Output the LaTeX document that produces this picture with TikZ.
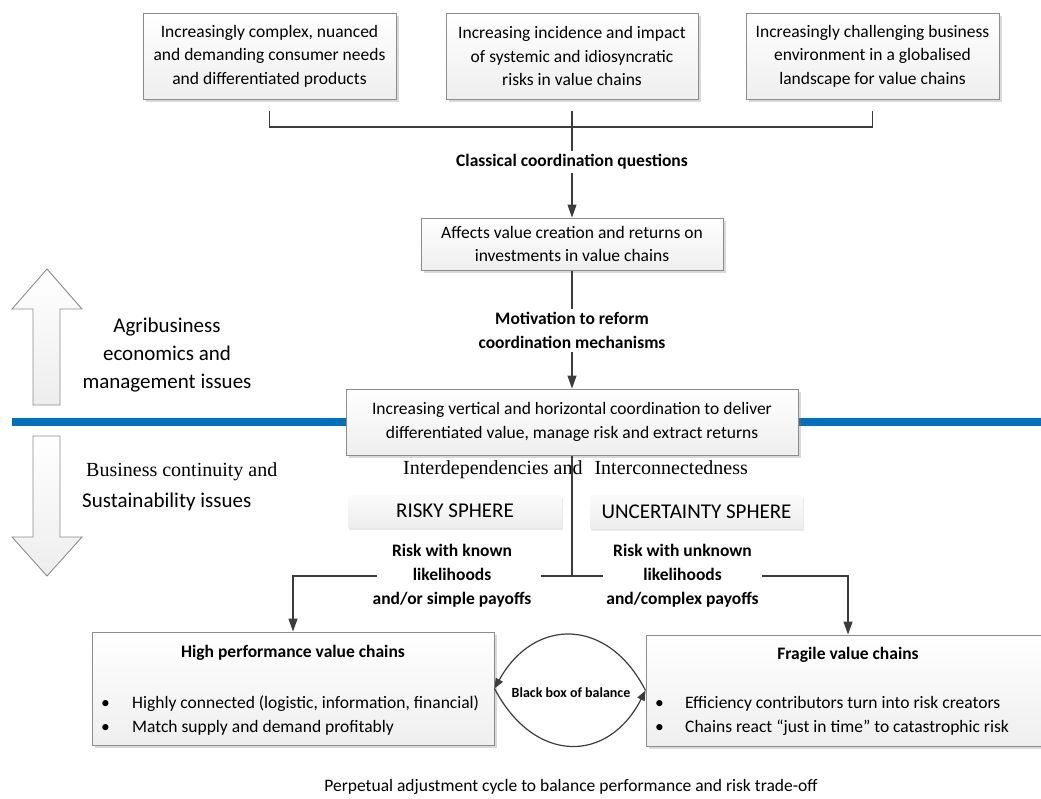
\documentclass[tikz,border=0pt]{standalone}
\usepackage{fontspec}
\setmainfont{Carlito}
\newfontfamily\serifTNR{Liberation Serif}
\usetikzlibrary{arrows.meta,shadows}

\definecolor{lineC}{HTML}{3C3C3C}
\definecolor{boxB}{HTML}{8C8C8C}
\definecolor{blueL}{HTML}{0070C0}

\tikzset{
  boxtext/.style={font=\fontsize{17.5}{23.5}\selectfont},
  box/.style={boxtext, draw=boxB, line width=1pt, top color=white, bottom color=gray!13,
    drop shadow={shadow xshift=2.5pt, shadow yshift=-2.5pt, opacity=.3},
    inner sep=0pt, align=center},
  sphere/.style={font=\fontsize{21}{25}\selectfont, top color=gray!3, bottom color=gray!14,
    drop shadow={shadow xshift=1pt, shadow yshift=-2.5pt, opacity=.18},
    inner sep=0pt, align=center},
  boldlabel/.style={font=\fontsize{17.5}{24.5}\selectfont\bfseries, align=center, inner sep=3pt},
  plainlabel/.style={font=\fontsize{17.5}{24}\selectfont, align=left, inner sep=0pt},
  link/.style={draw=lineC, line width=1.3pt},
  arr/.style={link, -{Triangle[length=13pt,width=9pt]}},
  looparr/.style={link, line width=1.2pt, -{Triangle[length=10pt,width=8pt]}},
  blockarrow/.style={draw=boxB, line width=0.9pt, top color=white, bottom color=gray!14},
}

\begin{document}
\begin{tikzpicture}[x=1pt,y=-1pt]
\useasboundingbox (0,0) rectangle (1041,798);

% divider between the two issue areas
\draw[blueL, line width=7.5pt] (12,422) -- (1041,422);

% side block arrows
\draw[blockarrow] (33,405) -- (33,309) -- (12,309) -- (47,269) -- (82,309) -- (60,309) -- (60,405) -- cycle;
\draw[blockarrow] (33,436) -- (33,537) -- (12,537) -- (47,576) -- (82,537) -- (60,537) -- (60,436) -- cycle;

\node[font=\fontsize{21}{28}\selectfont, align=center, inner sep=0pt] (agri) at (167,355)
  {Agribusiness\\economics and\\management issues};
\node[font=\serifTNR\fontsize{20}{24}\selectfont, anchor=west, inner sep=0pt] (bc1) at (86,472)
  {Business continuity and};
\node[font=\fontsize{21}{25}\selectfont, anchor=west, inner sep=0pt] (bc2) at (82,502)
  {Sustainability issues};

% drivers
\node[box, minimum width=253pt, minimum height=86pt] (b1) at (269.5,56)
  {Increasingly complex, nuanced\\and demanding consumer needs\\and differentiated products};
\node[box, minimum width=252pt, minimum height=86pt] (b2) at (572,56)
  {Increasing incidence and impact\\of systemic and idiosyncratic\\risks in value chains};
\node[box, minimum width=253pt, minimum height=86pt] (b3) at (872.5,56)
  {Increasingly challenging business\\environment in a globalised\\landscape for value chains};

\coordinate (bj) at (572,127);
\draw[link] ([yshift=-11pt]b1.south) |- (bj) -| ([yshift=-11pt]b3.south);

\node[boldlabel] (cq) at (572,162) {Classical coordination questions};
\draw[link] ([yshift=-11pt]b2.south) -- (cq.north);

\node[box, minimum width=302pt, minimum height=52pt] (aff) at (572,244)
  {Affects value creation and returns on\\investments in value chains};
\draw[arr] (cq.south) -- (aff.north);

\node[boldlabel] (mot) at (572,330.5) {Motivation to reform\\coordination mechanisms};
\draw[link] (aff.south) -- (mot.north);

\node[box, minimum width=452pt, minimum height=66pt] (main) at (572,422)
  {Increasing vertical and horizontal coordination to deliver\\differentiated value, manage risk and extract returns};
\draw[arr] (mot.south) -- (main.north);

\node[font=\serifTNR\fontsize{20}{24}\selectfont, inner sep=0pt] (intr) at (575.5,470)
  {Interdependencies and\hspace{12pt}Interconnectedness};

\node[sphere, minimum width=214pt, minimum height=32pt] (risky) at (455,511) {RISKY SPHERE};
\node[sphere, minimum width=213pt, minimum height=33pt] (unc) at (696.5,511.5) {UNCERTAINTY SPHERE};

\node[boldlabel, inner sep=0pt, font=\fontsize{17.5}{24}\selectfont\bfseries] (kn) at (452,576)
  {Risk with known\\likelihoods\\and/or simple payoffs};
\node[boldlabel, inner sep=0pt, font=\fontsize{17.5}{24}\selectfont\bfseries] (unk) at (682.5,576)
  {Risk with unknown\\likelihoods\\and/complex payoffs};

% value chain outcomes
\node[box, minimum width=402pt, minimum height=113pt] (hp) at (293,688.5) {};
\node[box, minimum width=404pt, minimum height=111pt] (fr) at (848,690.5) {};

\node[boldlabel, inner sep=0pt] (hpt) at (293,653) {High performance value chains};
\node[plainlabel, anchor=west] (hpl) at (101,715)
  {\makebox[31pt][l]{•}Highly connected (logistic, information, financial)\\
   \makebox[31pt][l]{•}Match supply and demand profitably};
\node[boldlabel, inner sep=0pt] (frt) at (848,655) {Fragile value chains};
\node[plainlabel, anchor=west] (frl) at (655,715.5)
  {\makebox[30pt][l]{•}Efficiency contributors turn into risk creators\\
   \makebox[30pt][l]{•}Chains react “just in time” to catastrophic risk};

% branching below the coordination box
\coordinate (jn) at (572,576);
\coordinate (kL) at (377,576);
\coordinate (kR) at (541,576);
\coordinate (uL) at (603,576);
\coordinate (uR) at (762,576);
\draw[link] (main.south) -- (jn);
\draw[link] (kR) -- (uL);
\draw[arr] (kL) -| (hp.north);
\draw[arr] (uR) -| (fr.north);

% balancing loop between the two chain types
\node[font=\fontsize{14}{16}\selectfont\bfseries, inner sep=0pt] (bb) at (571,693) {Black box of balance};
\draw[looparr] (fr.west) .. controls (608,617) and (534,617) .. (hp.east);
\draw[looparr] (hp.east) .. controls (534,764) and (608,764) .. (fr.west);

\node[font=\fontsize{17.5}{21}\selectfont, inner sep=0pt] (perp) at (571,787)
  {Perpetual adjustment cycle to balance performance and risk trade-off};
\end{tikzpicture}
\end{document}
